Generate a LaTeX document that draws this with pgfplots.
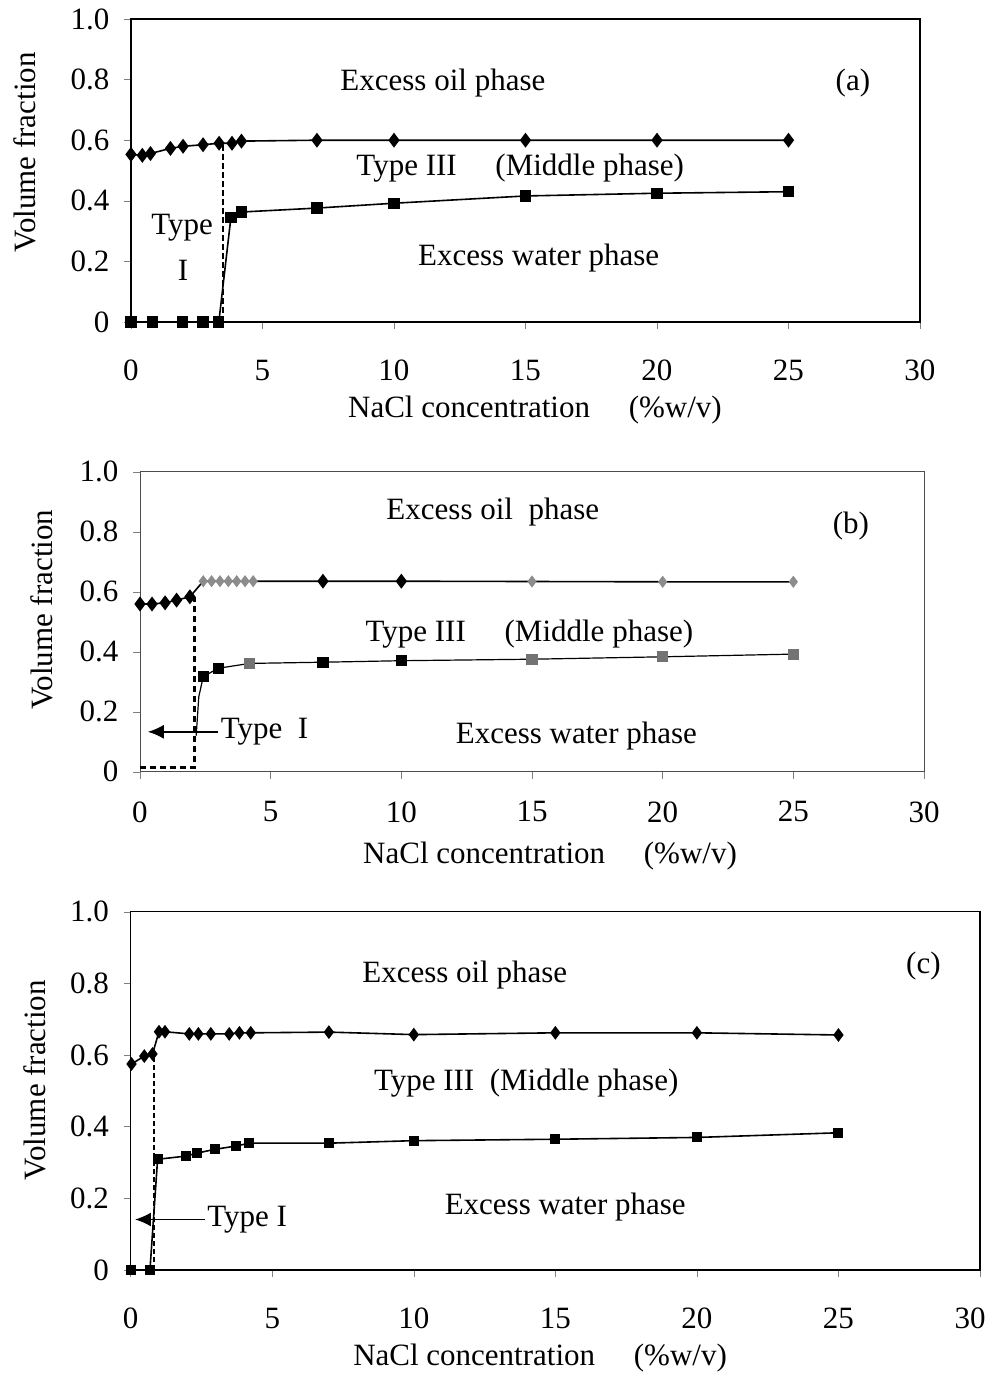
\documentclass[border=0pt]{standalone}
\usepackage{fontspec}
\setmainfont{Liberation Serif}
\usepackage{pgfplots}
\pgfplotsset{compat=1.18}
\usetikzlibrary{arrows.meta}

\newcommand\fs{\fontsize{15.5pt}{18pt}\selectfont}

\pgfplotsset{
  phase/.style={
    scale only axis,
    anchor=south west,
    xmin=0, xmax=30, ymin=0, ymax=1,
    xtick={0,5,10,15,20,25,30},
    ytick={0,0.2,0.4,0.6,0.8,1},
    yticklabels={0,0.2,0.4,0.6,0.8,1.0},
    tick align=outside, tick pos=left,
    major tick length=3.5pt,
    /pgf/number format/assume math mode=true,
    xticklabel style={anchor=north, yshift=-10pt},
    yticklabel style={anchor=east, xshift=-2pt},
    ylabel={Volume fraction},
    xlabel={NaCl concentration\quad\ (\%w/v)},
    clip=false,
    axis line style={line width=0.7pt},
  },
  dia/.style={black, line width=0.8pt, mark=diamond*, mark size=3.1pt},
  sq/.style={black, line width=0.8pt, mark=square*, mark size=2.4pt},
}

\begin{document}
\fs
\begin{tikzpicture}
\useasboundingbox (0,0) rectangle (494pt,-688.5pt);

% (a)
\begin{axis}[phase,
  at={(65.5pt,-161pt)}, width=394.5pt, height=151.5pt,
  ylabel style={at={(axis description cs:-0.134,0.56)}, anchor=center},
  xlabel style={at={(axis description cs:0.512,-0.29)}, anchor=center},
]
\addplot[black, line width=1.4pt, dash pattern=on 3pt off 1.5pt]
  coordinates {(3.5,0) (3.5,0.59)};
\addplot[dia] coordinates {
  (0,0.553)(0.43,0.55)(0.74,0.556)(1.5,0.573)(1.98,0.58)(2.74,0.585)
  (3.35,0.59)(3.84,0.59)(4.2,0.597)(7.07,0.6)(10,0.6)(15,0.6)(20,0.6)(25,0.6)};
\addplot[sq] coordinates {
  (0,0)(0.83,0)(1.95,0)(2.74,0)(3.34,0)(3.8,0.346)(4.2,0.363)(7.07,0.376)
  (10,0.392)(15,0.416)(20,0.425)(25,0.43)};
\node at (axis cs:11.86,0.79) {Excess oil phase};
\node at (axis cs:27.45,0.79) {(a)};
\node at (axis cs:14.8,0.508) {Type III\quad\ (Middle phase)};
\node at (axis cs:15.5,0.211) {Excess water phase};
\node at (axis cs:1.94,0.31) {Type};
\node at (axis cs:1.98,0.17) {I};
\end{axis}

% (b)
\begin{axis}[phase,
  at={(70pt,-385.85pt)}, width=392pt, height=150pt,
  axis line style={line width=0.5pt, black!70},
  xticklabel style={yshift=4pt},
  ylabel style={at={(axis description cs:-0.125,0.54)}, anchor=center},
  xlabel style={at={(axis description cs:0.523,-0.28)}, anchor=center},
]
\addplot[black, line width=1.4pt, dash pattern=on 3pt off 2pt]
  coordinates {(0,0.015) (2.1,0.015) (2.1,0.583)};
\addplot[black, line width=0.8pt] coordinates {
  (0,0.559)(0.46,0.559)(0.96,0.563)(1.4,0.572)(1.91,0.583)(2.42,0.635)(2.74,0.635)
  (3.06,0.635)(3.38,0.635)(3.7,0.635)(4.02,0.635)(4.33,0.635)(7,0.635)(10,0.635)
  (15,0.634)(20,0.633)(25,0.633)};
\addplot[dia, only marks] coordinates {
  (0,0.559)(0.46,0.559)(0.96,0.563)(1.4,0.572)(1.91,0.583)(7,0.635)(10,0.635)};
\addplot[dia, only marks, black!45, mark size=2.4pt] coordinates {
  (2.42,0.635)(2.74,0.635)(3.06,0.635)(3.38,0.635)(3.7,0.635)(4.02,0.635)(4.33,0.635)
  (15,0.634)(20,0.633)(25,0.633)};
\addplot[black, line width=0.6pt] coordinates {
  (2.15,0.12)(2.25,0.25)(2.42,0.317)(3.0,0.345)(4.2,0.361)(7,0.365)(10,0.37)
  (15,0.375)(20,0.383)(25,0.392)};
\addplot[sq, only marks] coordinates {(2.42,0.317)(3.0,0.345)(7,0.365)(10,0.37)};
\addplot[sq, only marks, black!55] coordinates {(4.2,0.361)(15,0.375)(20,0.383)(25,0.392)};
\draw[-{Latex[length=8pt,width=7pt]}, line width=0.8pt]
  (axis cs:3.0,0.133) -- (axis cs:0.3,0.133);
\node[anchor=west, inner sep=1pt] at (axis cs:3.0,0.133) {Type\ \ I};
\node at (axis cs:13.5,0.866) {Excess oil\ \ phase};
\node at (axis cs:27.2,0.82) {(b)};
\node at (axis cs:14.9,0.46) {Type III\quad\ (Middle phase)};
\node at (axis cs:16.7,0.12) {Excess water phase};
\end{axis}

% (c)
\begin{axis}[phase,
  at={(65.35pt,-635pt)}, width=424.65pt, height=179.15pt,
  xticklabels={0,5,10,15,20,25,\hspace*{-10pt}30},
  ylabel style={at={(axis description cs:-0.113,0.53)}, anchor=center},
  xlabel style={at={(axis description cs:0.482,-0.246)}, anchor=center},
]
\addplot[black, line width=0.7pt, dash pattern=on 2.5pt off 1.5pt]
  coordinates {(0.83,0) (0.83,0.603)};
\addplot[dia, mark size=2.8pt] coordinates {
  (0.03,0.575)(0.48,0.597)(0.77,0.603)(1.0,0.665)(1.21,0.665)(2.07,0.659)(2.39,0.659)
  (2.83,0.659)(3.48,0.659)(3.84,0.662)(4.24,0.662)(7,0.664)(10,0.657)(15,0.662)
  (20,0.662)(25,0.656)};
\addplot[sq, mark size=2.1pt] coordinates {
  (0,0)(0.68,0)(0.95,0.309)(1.95,0.318)(2.33,0.326)(2.98,0.337)(3.72,0.346)
  (4.19,0.354)(7,0.354)(10,0.361)(15,0.365)(20,0.37)(25,0.383)};
\draw[-{Latex[length=8pt,width=7pt]}, line width=0.8pt]
  (axis cs:2.62,0.141) -- (axis cs:0.15,0.141);
\node[anchor=west, inner sep=1pt] at (axis cs:2.62,0.141) {Type I};
\node at (axis cs:11.8,0.823) {Excess oil phase};
\node at (axis cs:28.0,0.848) {(c)};
\node at (axis cs:13.97,0.522) {Type III\ \ (Middle phase)};
\node at (axis cs:15.35,0.176) {Excess water phase};
\end{axis}
\end{tikzpicture}
\end{document}
